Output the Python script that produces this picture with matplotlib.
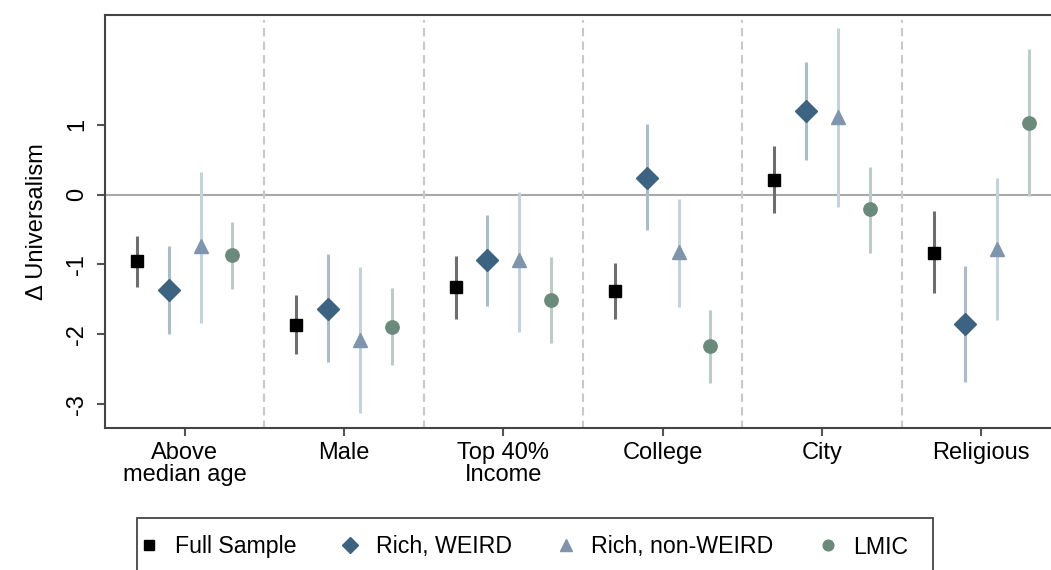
import numpy as np
import matplotlib
matplotlib.use("Agg")
import matplotlib.pyplot as plt
from matplotlib.lines import Line2D
from matplotlib.patches import Rectangle

plt.rcParams['font.family'] = ['Liberation Sans', 'DejaVu Sans']

groups = ['Above\nmedian age', 'Male', 'Top 40%\nIncome', 'College', 'City', 'Religious']

full_est = [-0.95, -1.86, -1.32, -1.38, 0.21, -0.83]
full_lo = [-1.32, -2.28, -1.78, -1.78, -0.27, -1.41]
full_hi = [-0.59, -1.44, -0.88, -0.98, 0.69, -0.24]

weird_est = [-1.36, -1.63, -0.94, 0.24, 1.20, -1.85]
weird_lo = [-1.99, -2.40, -1.59, -0.51, 0.49, -2.68]
weird_hi = [-0.73, -0.85, -0.29, 1.01, 1.90, -1.02]

nonweird_est = [-0.74, -2.08, -0.94, -0.82, 1.11, -0.78]
nonweird_lo = [-1.84, -3.13, -1.96, -1.61, -0.18, -1.80]
nonweird_hi = [0.32, -1.04, 0.03, -0.07, 2.38, 0.24]

lmic_est = [-0.87, -1.89, -1.51, -2.17, -0.21, 1.03]
lmic_lo = [-1.35, -2.44, -2.13, -2.70, -0.83, -0.02]
lmic_hi = [-0.39, -1.34, -0.89, -1.65, 0.40, 2.08]

series = [
    # label, est, lo, hi, marker, size, legend size, color, ci color, offset
    ('Full Sample', full_est, full_lo, full_hi, 's', 9.3, 7.4, '#000000', '#6e6e6e', -0.3),
    ('Rich, WEIRD', weird_est, weird_lo, weird_hi, 'D', 11.5, 8.2, '#3c6482', '#a8bccd', -0.1),
    ('Rich, non-WEIRD', nonweird_est, nonweird_lo, nonweird_hi, '^', 10, 8.0, '#7e95ad', '#c4d1de', 0.1),
    ('LMIC', lmic_est, lmic_lo, lmic_hi, 'o', 9.6, 7.7, '#6a8a7c', '#bccbc3', 0.3),
]

fig = plt.figure(figsize=(10.51, 5.70), dpi=100)
ax = fig.add_axes([105 / 1051, 1 - 428 / 570, 956 / 1051, 413 / 570])

x = np.arange(1, len(groups) + 1)

ax.axhline(0, color='#a8a8a8', lw=1.5, zorder=1)
for b in np.arange(1.5, len(groups), 1.0):
    ax.plot([b, b], [-3.35, 2.5], color='#c8c8c8', lw=1.5, ls=(0, (4, 2.5)), zorder=1)

handles = []
for label, est, lo, hi, mk, ms, lms, col, cicol, off in series:
    xs = x + off
    ax.vlines(xs, lo, hi, color=cicol, lw=2.2, zorder=2)
    ax.plot(xs, est, ls='none', marker=mk, ms=ms, color=col, mec=col, zorder=3)
    handles.append(Line2D([], [], ls='none', marker=mk, ms=lms, color=col, mec=col))

ax.set_xlim(0.5, 6.5)
ax.set_ylim(-3.34, 2.57)
ax.set_xticks(x)
ax.set_xticklabels(groups, fontsize=17, linespacing=1.0)
ax.set_yticks([-3, -2, -1, 0, 1])
ax.set_yticklabels(['-3', '-2', '-1', '0', '1'], rotation=90, va='center', fontsize=17)
ax.set_ylabel('Δ Universalism', fontsize=17, labelpad=13)

for s in ['left', 'top', 'bottom']:
    ax.spines[s].set_color('#444444')
    ax.spines[s].set_linewidth(1.5)
ax.spines['right'].set_visible(False)
ax.tick_params(axis='both', direction='out', length=6, width=1.5, color='#555555')
ax.tick_params(axis='x', pad=4)
ax.tick_params(axis='y', pad=6)

fig.legend(handles, [s[0] for s in series], loc='center left',
           bbox_to_anchor=(140 / 1051, 1 - 547 / 570), ncol=4, fontsize=16.7,
           frameon=False, handlelength=0.8, handletextpad=0.70, columnspacing=1.93,
           borderpad=0, borderaxespad=0)
fig.patches.append(Rectangle((137 / 1051, -0.05), (933 - 137) / 1051, 0.05 + 52 / 570,
                             transform=fig.transFigure, fill=False,
                             edgecolor='#444444', lw=1.3))

fig.savefig('out.png', dpi=100)
